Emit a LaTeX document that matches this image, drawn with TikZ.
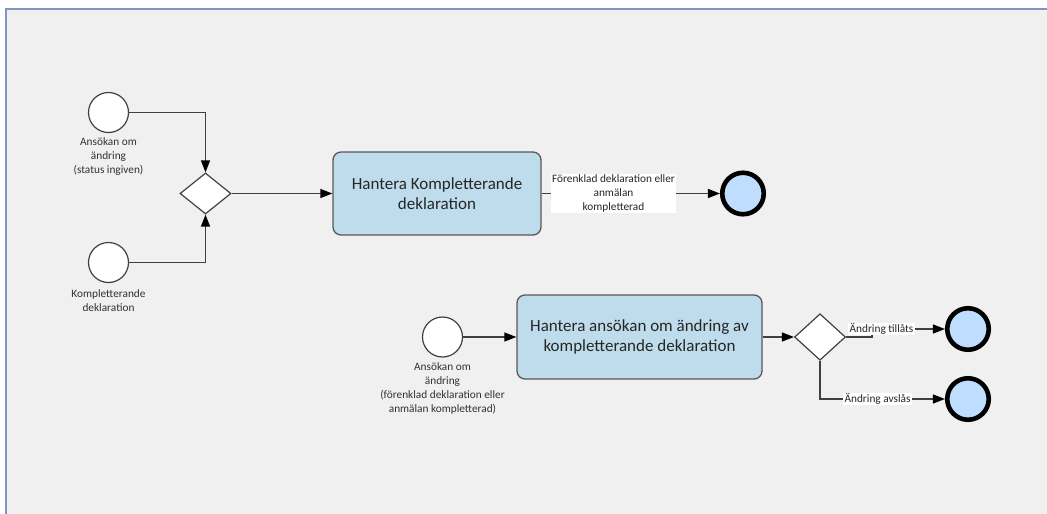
\documentclass[tikz,border=0pt]{standalone}
\usepackage{fontspec}
\setmainfont{Carlito}
\usetikzlibrary{shapes.geometric,arrows.meta}
\definecolor{bgc}{RGB}{240,240,240}
\definecolor{framec}{RGB}{128,150,190}
\definecolor{linec}{RGB}{64,64,64}
\definecolor{taskfill}{RGB}{190,220,235}
\definecolor{taskdraw}{RGB}{88,88,88}
\definecolor{endfill}{RGB}{191,222,255}
\definecolor{txtc}{RGB}{50,50,50}
\begin{document}
\begin{tikzpicture}[x=1pt,y=-1pt,
  startev/.style={circle,draw=linec,fill=white,line width=1.2pt,minimum size=40pt,inner sep=0pt},
  endev/.style={circle,draw=black,fill=endfill,line width=4.6pt,minimum size=41.5pt,inner sep=0pt},
  gate/.style={diamond,draw=linec,fill=white,line width=1.2pt,inner sep=0pt,minimum width=51pt},
  taskbox/.style={rectangle,rounded corners=8pt,draw=taskdraw,fill=taskfill,line width=1.3pt,align=center,
    font=\fontsize{17}{20}\selectfont,text=black!85},
  evlabel/.style={align=center,font=\fontsize{11.3}{14}\selectfont,text=txtc,inner sep=0pt},
  flowlabel/.style={align=center,font=\fontsize{11.3}{14}\selectfont,text=black!85,fill=white,inner xsep=1.5pt,inner ysep=1pt},
  flow/.style={draw=linec,line width=1.3pt,-{Triangle[length=12pt,width=9pt,color=black]}}
]
\useasboundingbox (0,0) rectangle (1047,514);
\fill[white] (0,0) rectangle (1047,514);
\fill[bgc] (6,9) rectangle (1047,514);
\draw[framec,line width=2pt] (6,514) -- (6,9) -- (1047,9);

% upper process
\node[startev] (s1) at (108.5,112.5) {};
\node[evlabel] (s1l) at (108.5,156.5) {Ansökan om\\ändring\\(status ingiven)};
\node[startev] (s2) at (108.5,262.5) {};
\node[evlabel] (s2l) at (108.5,301) {Kompletterande\\deklaration};
\node[gate,minimum height=41pt] (g1) at (205.5,193.5) {};
\node[taskbox,minimum width=208pt,minimum height=83pt] (t1) at (437,193.5) {Hantera Kompletterande\\deklaration};
\node[endev] (e1) at (743,193.5) {};

\draw[flow] (s1.east) -| (g1.north);
\draw[flow] (s2.east) -| (g1.south);
\draw[flow] (g1.east) -- (t1.west);
\draw[flow] (t1.east) -- (e1.west);
\node[flowlabel] (f1) at (613.5,193.5) {Förenklad deklaration eller\\anmälan\\kompletterad};

% lower process
\node[startev] (s3) at (442.5,337) {};
\node[evlabel] (s3l) at (442.5,388) {Ansökan om\\ändring\\(förenklad deklaration eller\\anmälan kompletterad)};
\node[taskbox,minimum width=245pt,minimum height=84pt] (t2) at (639.5,337) {Hantera ansökan om ändring av\\kompletterande deklaration};
\node[gate,minimum height=46.5pt] (g2) at (820,337) {};
\node[endev] (e2) at (968,329) {};
\node[endev] (e3) at (968,399) {};
\coordinate (j1) at (872,337);

\draw[flow] (s3.east) -- (t2.west);
\draw[flow] (t2.east) -- (g2.west);
\draw[flow] (g2.east) -- (j1) |- (e2.west);
\draw[flow] (g2.south) |- (e3.west);
\node[flowlabel,inner ysep=0.5pt] (f2) at (881.5,328.5) {Ändring tillåts};
\node[flowlabel,inner ysep=0.5pt] (f3) at (877.5,398.5) {Ändring avslås};
\end{tikzpicture}
\end{document}
